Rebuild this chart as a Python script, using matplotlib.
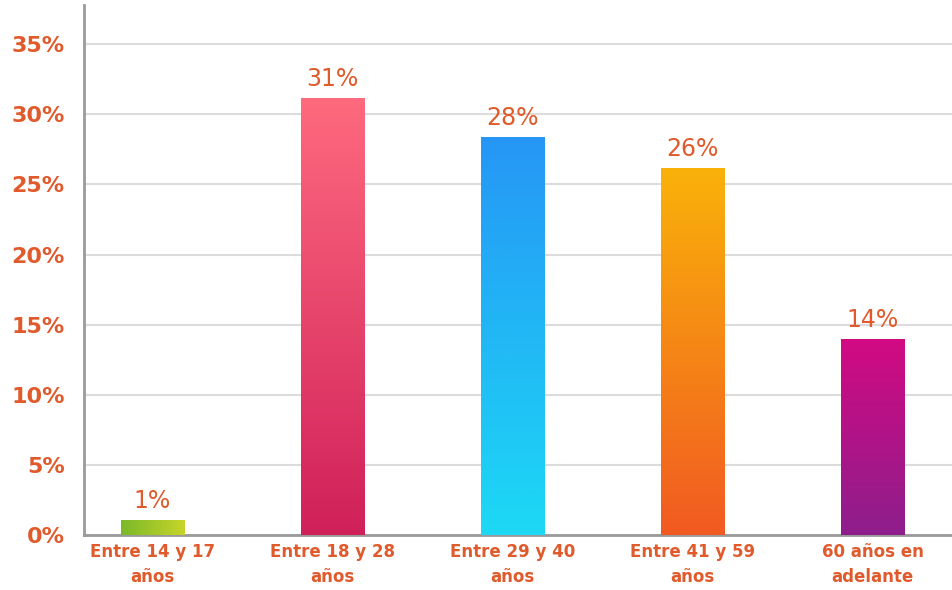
import numpy as np
import matplotlib.pyplot as plt
from matplotlib.colors import LinearSegmentedColormap

# Data
categories = ["Entre 14 y 17\naños", "Entre 18 y 28\naños", "Entre 29 y 40\naños",
              "Entre 41 y 59\naños", "60 años en\nadelante"]
values = [1.1, 31.2, 28.4, 26.2, 14.0]
labels = ["1%", "31%", "28%", "26%", "14%"]

# Gradient colors (bottom/left, top/right)
grad_colors = [("#7ab929", "#c8d42a"), ("#d0205a", "#fe6a7e"), ("#1dd9f5", "#2696f5"),
               ("#f15a22", "#fab20a"), ("#8e1e8c", "#d20a82")]
orange = "#e05a2b"

fig = plt.figure(figsize=(9.52, 5.9), dpi=100)
ax = fig.add_axes([0.0882, 0.0932, 0.9118, 0.8983])

x = np.arange(len(values))
width = 0.35
bars = ax.bar(x, values, width=width, color="none", zorder=3)

for i, (b, v) in enumerate(zip(bars, values)):
    cmap = LinearSegmentedColormap.from_list("g%d" % i, grad_colors[i])
    if i == 0:
        grad = np.linspace(0, 1, 256).reshape(1, -1)  # horizontal
    else:
        grad = np.linspace(0, 1, 256).reshape(-1, 1)  # vertical, bottom -> top
    im = ax.imshow(grad, cmap=cmap, aspect="auto", origin="lower",
                   extent=[x[i] - width / 2, x[i] + width / 2, 0, v], zorder=3)
    im.set_clip_path(b)
    ax.text(x[i], v + 0.5, labels[i], ha="center", va="bottom",
            fontsize=17, color=orange)

ax.set_xlim(-0.38, 4.44)
ax.set_ylim(0, 37.8)
ax.set_yticks(np.arange(0, 36, 5))
ax.set_yticklabels(["%d%%" % t for t in range(0, 36, 5)], fontsize=16,
                   fontweight="heavy", color=orange)
ax.set_xticks(x)
ax.set_xticklabels(categories, fontsize=12, fontweight="heavy", color=orange,
                   linespacing=1.45)
ax.tick_params(axis="both", length=0)
ax.tick_params(axis="y", pad=14)
ax.tick_params(axis="x", pad=6)

ax.grid(axis="y", color="#dcdcdc", linewidth=1.5, zorder=0)
ax.set_axisbelow(True)
for s in ["top", "right"]:
    ax.spines[s].set_visible(False)
ax.spines["left"].set_color("#9a9a9a")
ax.spines["left"].set_linewidth(2)
ax.spines["bottom"].set_color("#9a9a9a")
ax.spines["bottom"].set_linewidth(2)

fig.savefig("out.png", dpi=100)
